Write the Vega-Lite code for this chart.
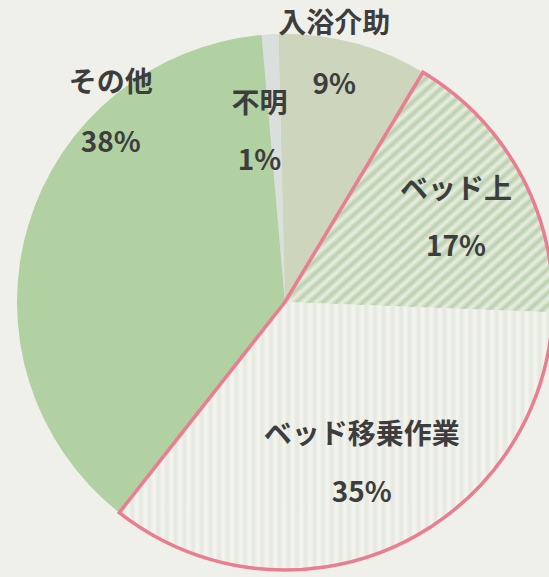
{
  "$schema": "https://vega.github.io/schema/vega-lite/v6.json",
  "width": 528,
  "height": 550,
  "padding": {"left": 21, "top": 27, "right": 0, "bottom": 0},
  "autosize": {"type": "none"},
  "background": "#f0f0ea",
  "config": {"view": {"stroke": null}},
  "data": {
    "values": [
      {"label": "不明", "value": 1, "order": 1, "group": "d", "text": "不明\n1%"},
      {"label": "入浴介助", "value": 9, "order": 2, "group": "a", "text": "入浴介助\n9%"},
      {"label": "ベッド上", "value": 17, "order": 3, "group": "b", "text": "ベッド上\n17%"},
      {"label": "ベッド移乗作業", "value": 35, "order": 4, "group": "b", "text": "ベッド移乗作業\n35%"},
      {"label": "その他", "value": 38, "order": 5, "group": "c", "text": "その他\n38%"}
    ]
  },
  "encoding": {
    "theta": {"field": "value", "type": "quantitative", "stack": true, "scale": {"range": [-0.0873, 6.1959]}},
    "order": {"field": "order", "type": "quantitative"}
  },
  "layer": [
    {
      "mark": {"type": "arc", "radius": 268},
      "encoding": {
        "fill": {
          "condition": [
            {"test": "datum.label === '不明'", "value": "#d9dfdc"},
            {"test": "datum.label === '入浴介助'", "value": "#cdd5bc"},
            {"test": "datum.label === 'ベッド上'", "value": {
              "gradient": "linear", "x1": 0, "y1": 0, "x2": 1, "y2": 1,
              "stops": [
                {"offset": 0, "color": "#b8d0ab"}, {"offset": 0.0125, "color": "#eaeee3"},
                {"offset": 0.025, "color": "#b8d0ab"}, {"offset": 0.0375, "color": "#eaeee3"},
                {"offset": 0.05, "color": "#b8d0ab"}, {"offset": 0.0625, "color": "#eaeee3"},
                {"offset": 0.075, "color": "#b8d0ab"}, {"offset": 0.0875, "color": "#eaeee3"},
                {"offset": 0.1, "color": "#b8d0ab"}, {"offset": 0.1125, "color": "#eaeee3"},
                {"offset": 0.125, "color": "#b8d0ab"}, {"offset": 0.1375, "color": "#eaeee3"},
                {"offset": 0.15, "color": "#b8d0ab"}, {"offset": 0.1625, "color": "#eaeee3"},
                {"offset": 0.175, "color": "#b8d0ab"}, {"offset": 0.1875, "color": "#eaeee3"},
                {"offset": 0.2, "color": "#b8d0ab"}, {"offset": 0.2125, "color": "#eaeee3"},
                {"offset": 0.225, "color": "#b8d0ab"}, {"offset": 0.2375, "color": "#eaeee3"},
                {"offset": 0.25, "color": "#b8d0ab"}, {"offset": 0.2625, "color": "#eaeee3"},
                {"offset": 0.275, "color": "#b8d0ab"}, {"offset": 0.2875, "color": "#eaeee3"},
                {"offset": 0.3, "color": "#b8d0ab"}, {"offset": 0.3125, "color": "#eaeee3"},
                {"offset": 0.325, "color": "#b8d0ab"}, {"offset": 0.3375, "color": "#eaeee3"},
                {"offset": 0.35, "color": "#b8d0ab"}, {"offset": 0.3625, "color": "#eaeee3"},
                {"offset": 0.375, "color": "#b8d0ab"}, {"offset": 0.3875, "color": "#eaeee3"},
                {"offset": 0.4, "color": "#b8d0ab"}, {"offset": 0.4125, "color": "#eaeee3"},
                {"offset": 0.425, "color": "#b8d0ab"}, {"offset": 0.4375, "color": "#eaeee3"},
                {"offset": 0.45, "color": "#b8d0ab"}, {"offset": 0.4625, "color": "#eaeee3"},
                {"offset": 0.475, "color": "#b8d0ab"}, {"offset": 0.4875, "color": "#eaeee3"},
                {"offset": 0.5, "color": "#b8d0ab"}, {"offset": 0.5125, "color": "#eaeee3"},
                {"offset": 0.525, "color": "#b8d0ab"}, {"offset": 0.5375, "color": "#eaeee3"},
                {"offset": 0.55, "color": "#b8d0ab"}, {"offset": 0.5625, "color": "#eaeee3"},
                {"offset": 0.575, "color": "#b8d0ab"}, {"offset": 0.5875, "color": "#eaeee3"},
                {"offset": 0.6, "color": "#b8d0ab"}, {"offset": 0.6125, "color": "#eaeee3"},
                {"offset": 0.625, "color": "#b8d0ab"}, {"offset": 0.6375, "color": "#eaeee3"},
                {"offset": 0.65, "color": "#b8d0ab"}, {"offset": 0.6625, "color": "#eaeee3"},
                {"offset": 0.675, "color": "#b8d0ab"}, {"offset": 0.6875, "color": "#eaeee3"},
                {"offset": 0.7, "color": "#b8d0ab"}, {"offset": 0.7125, "color": "#eaeee3"},
                {"offset": 0.725, "color": "#b8d0ab"}, {"offset": 0.7375, "color": "#eaeee3"},
                {"offset": 0.75, "color": "#b8d0ab"}, {"offset": 0.7625, "color": "#eaeee3"},
                {"offset": 0.775, "color": "#b8d0ab"}, {"offset": 0.7875, "color": "#eaeee3"},
                {"offset": 0.8, "color": "#b8d0ab"}, {"offset": 0.8125, "color": "#eaeee3"},
                {"offset": 0.825, "color": "#b8d0ab"}, {"offset": 0.8375, "color": "#eaeee3"},
                {"offset": 0.85, "color": "#b8d0ab"}, {"offset": 0.8625, "color": "#eaeee3"},
                {"offset": 0.875, "color": "#b8d0ab"}, {"offset": 0.8875, "color": "#eaeee3"},
                {"offset": 0.9, "color": "#b8d0ab"}, {"offset": 0.9125, "color": "#eaeee3"},
                {"offset": 0.925, "color": "#b8d0ab"}, {"offset": 0.9375, "color": "#eaeee3"},
                {"offset": 0.95, "color": "#b8d0ab"}, {"offset": 0.9625, "color": "#eaeee3"},
                {"offset": 0.975, "color": "#b8d0ab"}, {"offset": 0.9875, "color": "#eaeee3"},
                {"offset": 1, "color": "#b8d0ab"}
              ]
            }},
            {"test": "datum.label === 'ベッド移乗作業'", "value": {
              "gradient": "linear", "x1": 0, "y1": 0, "x2": 1, "y2": 0,
              "stops": [
                {"offset": 0, "color": "#f4f5f0"}, {"offset": 0.01, "color": "#e4e8de"},
                {"offset": 0.02, "color": "#f4f5f0"}, {"offset": 0.03, "color": "#e4e8de"},
                {"offset": 0.04, "color": "#f4f5f0"}, {"offset": 0.05, "color": "#e4e8de"},
                {"offset": 0.06, "color": "#f4f5f0"}, {"offset": 0.07, "color": "#e4e8de"},
                {"offset": 0.08, "color": "#f4f5f0"}, {"offset": 0.09, "color": "#e4e8de"},
                {"offset": 0.1, "color": "#f4f5f0"}, {"offset": 0.11, "color": "#e4e8de"},
                {"offset": 0.12, "color": "#f4f5f0"}, {"offset": 0.13, "color": "#e4e8de"},
                {"offset": 0.14, "color": "#f4f5f0"}, {"offset": 0.15, "color": "#e4e8de"},
                {"offset": 0.16, "color": "#f4f5f0"}, {"offset": 0.17, "color": "#e4e8de"},
                {"offset": 0.18, "color": "#f4f5f0"}, {"offset": 0.19, "color": "#e4e8de"},
                {"offset": 0.2, "color": "#f4f5f0"}, {"offset": 0.21, "color": "#e4e8de"},
                {"offset": 0.22, "color": "#f4f5f0"}, {"offset": 0.23, "color": "#e4e8de"},
                {"offset": 0.24, "color": "#f4f5f0"}, {"offset": 0.25, "color": "#e4e8de"},
                {"offset": 0.26, "color": "#f4f5f0"}, {"offset": 0.27, "color": "#e4e8de"},
                {"offset": 0.28, "color": "#f4f5f0"}, {"offset": 0.29, "color": "#e4e8de"},
                {"offset": 0.3, "color": "#f4f5f0"}, {"offset": 0.31, "color": "#e4e8de"},
                {"offset": 0.32, "color": "#f4f5f0"}, {"offset": 0.33, "color": "#e4e8de"},
                {"offset": 0.34, "color": "#f4f5f0"}, {"offset": 0.35, "color": "#e4e8de"},
                {"offset": 0.36, "color": "#f4f5f0"}, {"offset": 0.37, "color": "#e4e8de"},
                {"offset": 0.38, "color": "#f4f5f0"}, {"offset": 0.39, "color": "#e4e8de"},
                {"offset": 0.4, "color": "#f4f5f0"}, {"offset": 0.41, "color": "#e4e8de"},
                {"offset": 0.42, "color": "#f4f5f0"}, {"offset": 0.43, "color": "#e4e8de"},
                {"offset": 0.44, "color": "#f4f5f0"}, {"offset": 0.45, "color": "#e4e8de"},
                {"offset": 0.46, "color": "#f4f5f0"}, {"offset": 0.47, "color": "#e4e8de"},
                {"offset": 0.48, "color": "#f4f5f0"}, {"offset": 0.49, "color": "#e4e8de"},
                {"offset": 0.5, "color": "#f4f5f0"}, {"offset": 0.51, "color": "#e4e8de"},
                {"offset": 0.52, "color": "#f4f5f0"}, {"offset": 0.53, "color": "#e4e8de"},
                {"offset": 0.54, "color": "#f4f5f0"}, {"offset": 0.55, "color": "#e4e8de"},
                {"offset": 0.56, "color": "#f4f5f0"}, {"offset": 0.57, "color": "#e4e8de"},
                {"offset": 0.58, "color": "#f4f5f0"}, {"offset": 0.59, "color": "#e4e8de"},
                {"offset": 0.6, "color": "#f4f5f0"}, {"offset": 0.61, "color": "#e4e8de"},
                {"offset": 0.62, "color": "#f4f5f0"}, {"offset": 0.63, "color": "#e4e8de"},
                {"offset": 0.64, "color": "#f4f5f0"}, {"offset": 0.65, "color": "#e4e8de"},
                {"offset": 0.66, "color": "#f4f5f0"}, {"offset": 0.67, "color": "#e4e8de"},
                {"offset": 0.68, "color": "#f4f5f0"}, {"offset": 0.69, "color": "#e4e8de"},
                {"offset": 0.7, "color": "#f4f5f0"}, {"offset": 0.71, "color": "#e4e8de"},
                {"offset": 0.72, "color": "#f4f5f0"}, {"offset": 0.73, "color": "#e4e8de"},
                {"offset": 0.74, "color": "#f4f5f0"}, {"offset": 0.75, "color": "#e4e8de"},
                {"offset": 0.76, "color": "#f4f5f0"}, {"offset": 0.77, "color": "#e4e8de"},
                {"offset": 0.78, "color": "#f4f5f0"}, {"offset": 0.79, "color": "#e4e8de"},
                {"offset": 0.8, "color": "#f4f5f0"}, {"offset": 0.81, "color": "#e4e8de"},
                {"offset": 0.82, "color": "#f4f5f0"}, {"offset": 0.83, "color": "#e4e8de"},
                {"offset": 0.84, "color": "#f4f5f0"}, {"offset": 0.85, "color": "#e4e8de"},
                {"offset": 0.86, "color": "#f4f5f0"}, {"offset": 0.87, "color": "#e4e8de"},
                {"offset": 0.88, "color": "#f4f5f0"}, {"offset": 0.89, "color": "#e4e8de"},
                {"offset": 0.9, "color": "#f4f5f0"}, {"offset": 0.91, "color": "#e4e8de"},
                {"offset": 0.92, "color": "#f4f5f0"}, {"offset": 0.93, "color": "#e4e8de"},
                {"offset": 0.94, "color": "#f4f5f0"}, {"offset": 0.95, "color": "#e4e8de"},
                {"offset": 0.96, "color": "#f4f5f0"}, {"offset": 0.97, "color": "#e4e8de"},
                {"offset": 0.98, "color": "#f4f5f0"}, {"offset": 0.99, "color": "#e4e8de"},
                {"offset": 1, "color": "#f4f5f0"}
              ]
            }}
          ],
          "value": "#b2d1a3"
        }
      }
    },
    {
      "transform": [
        {"aggregate": [
          {"op": "sum", "field": "value", "as": "value"},
          {"op": "min", "field": "order", "as": "order"}
        ], "groupby": ["group"]}
      ],
      "mark": {"type": "arc", "radius": 268, "fillOpacity": 0, "stroke": "#ea7d8f", "strokeWidth": 3.5},
      "encoding": {
        "strokeOpacity": {"condition": {"test": "datum.group === 'b'", "value": 1}, "value": 0}
      }
    },
    {
      "mark": {"type": "text", "radius": 255, "dx": -16, "dy": -30, "lineBreak": "\n", "lineHeight": 61, "font": "Noto Sans CJK JP", "fontSize": 28, "fontWeight": "bold", "fill": "#3d3d3d", "align": "center", "baseline": "middle"},
      "encoding": {
        "text": {"field": "text"},
        "opacity": {"condition": {"test": "datum.label === '入浴介助'", "value": 1}, "value": 0}
      }
    },
    {
      "mark": {"type": "text", "radius": 172, "dx": -16, "dy": -25, "lineBreak": "\n", "lineHeight": 57, "font": "Noto Sans CJK JP", "fontSize": 28, "fontWeight": "bold", "fill": "#3d3d3d", "align": "center", "baseline": "middle"},
      "encoding": {
        "text": {"field": "text"},
        "opacity": {"condition": {"test": "datum.label === '不明'", "value": 1}, "value": 0}
      }
    },
    {
      "mark": {"type": "text", "radius": 191, "dx": 3, "dy": -20, "lineBreak": "\n", "lineHeight": 57, "font": "Noto Sans CJK JP", "fontSize": 28, "fontWeight": "bold", "fill": "#3d3d3d", "align": "center", "baseline": "middle"},
      "encoding": {
        "text": {"field": "text"},
        "opacity": {"condition": {"test": "datum.label === 'ベッド上'", "value": 1}, "value": 0}
      }
    },
    {
      "mark": {"type": "text", "radius": 178, "dx": 2, "dy": -28, "lineBreak": "\n", "lineHeight": 58, "font": "Noto Sans CJK JP", "fontSize": 28, "fontWeight": "bold", "fill": "#3d3d3d", "align": "center", "baseline": "middle"},
      "encoding": {
        "text": {"field": "text"},
        "opacity": {"condition": {"test": "datum.label === 'ベッド移乗作業'", "value": 1}, "value": 0}
      }
    },
    {
      "mark": {"type": "text", "radius": 258, "dx": 73, "dy": -144, "lineBreak": "\n", "lineHeight": 60, "font": "Noto Sans CJK JP", "fontSize": 28, "fontWeight": "bold", "fill": "#3d3d3d", "align": "center", "baseline": "middle"},
      "encoding": {
        "text": {"field": "text"},
        "opacity": {"condition": {"test": "datum.label === 'その他'", "value": 1}, "value": 0}
      }
    }
  ]
}
